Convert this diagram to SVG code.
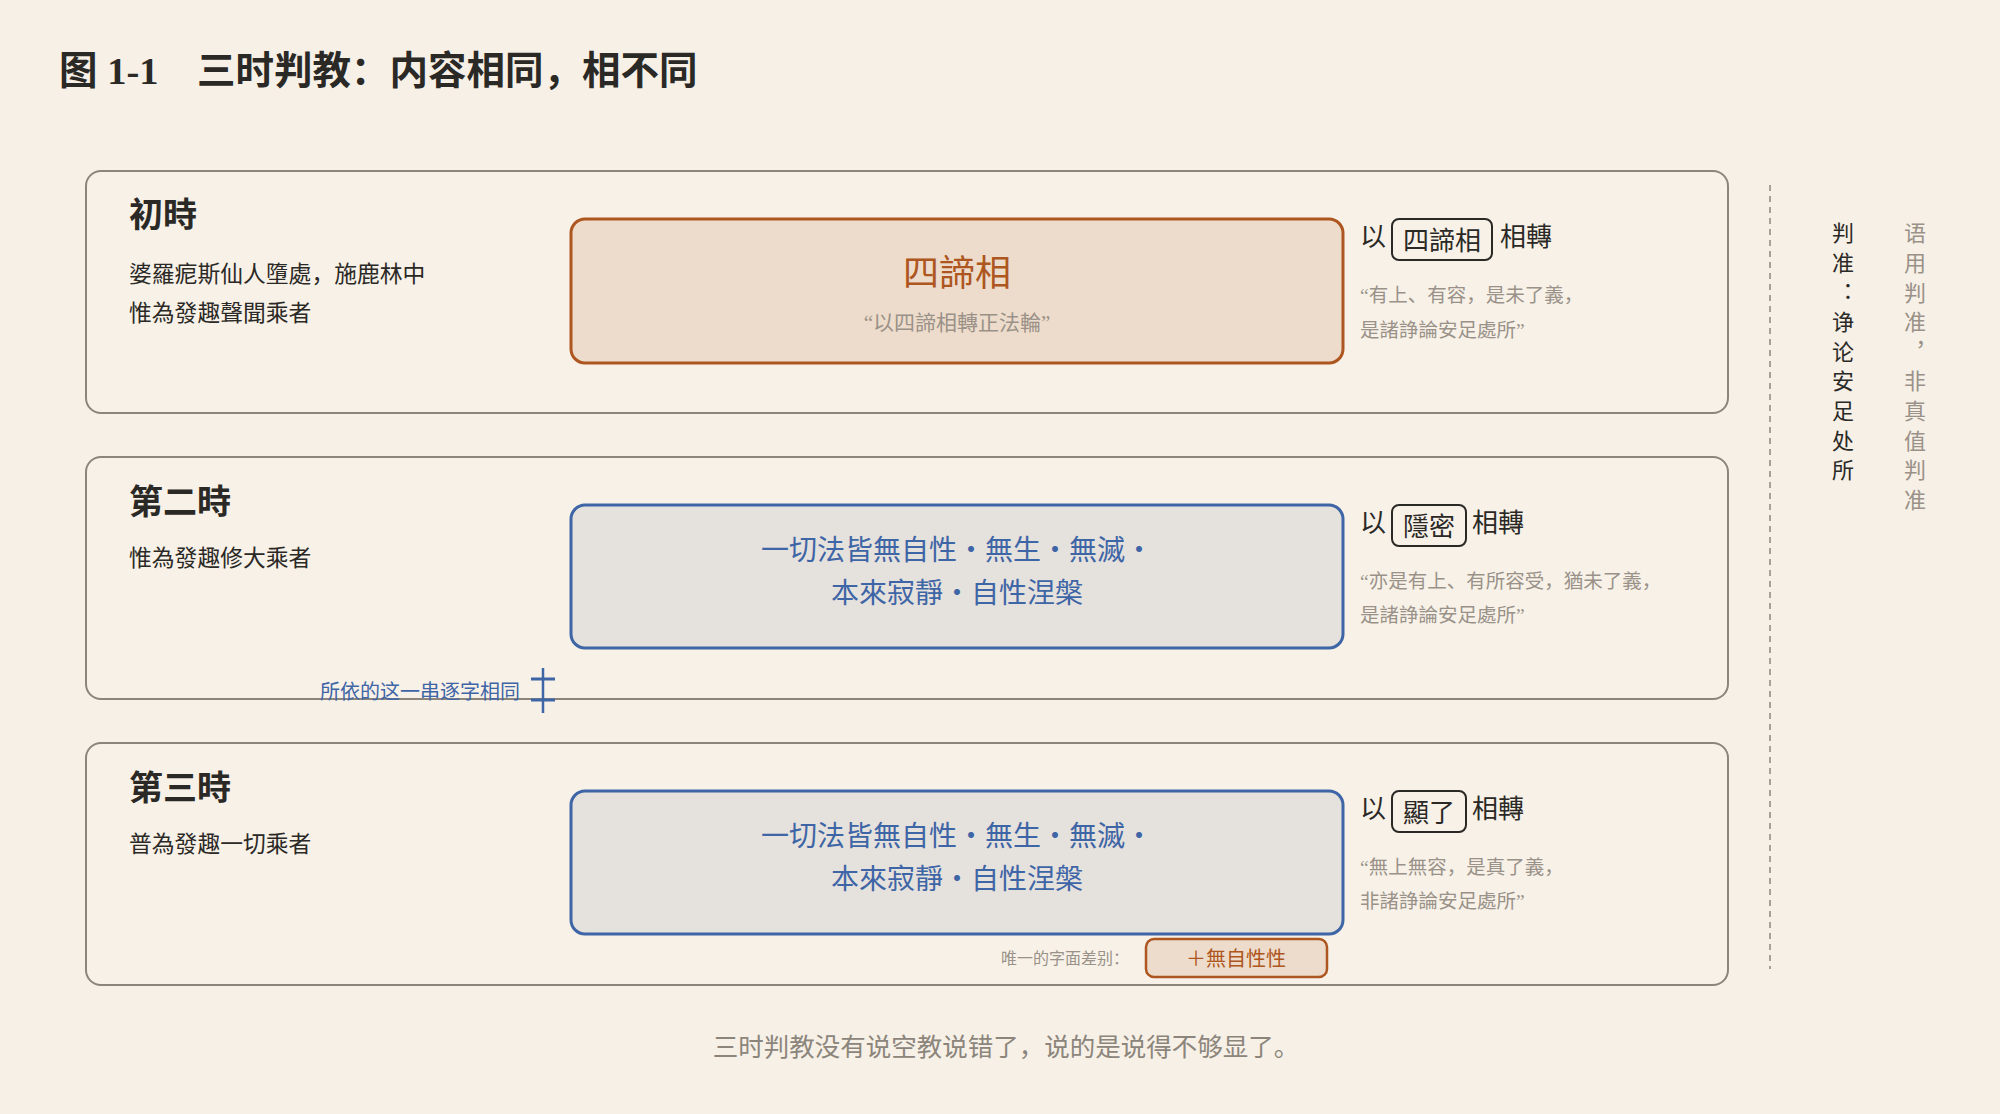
<svg xmlns="http://www.w3.org/2000/svg" width="2000" height="1114" viewBox="0 0 2000 1114">
<style>
text{font-family:"Liberation Serif","Noto Sans CJK SC",serif;}
.title{font-size:38.5px;font-weight:bold;fill:#2b2926;}
.panel{fill:#f7f1e8;stroke:#8c857b;stroke-width:2;}
.lbl{font-size:34px;font-weight:bold;fill:#2b2926;}
.sub{font-size:22.8px;fill:#2b2926;}
.boxO{fill:#eddccb;stroke:#ad5620;stroke-width:3;}
.boxB{fill:#e5e1dc;stroke:#3e65a6;stroke-width:3;}
.big{font-size:36px;fill:#ad5620;text-anchor:middle;}
.bq{font-size:21px;fill:#9a9188;text-anchor:middle;}
.blue{font-size:28px;fill:#3e65a6;text-anchor:middle;}
.yi{font-size:26px;fill:#2b2926;}
.tag{fill:none;stroke:#2b2926;stroke-width:2;}
.tagt{font-size:26px;fill:#2b2926;text-anchor:middle;}
.q{font-size:19.5px;fill:#9a9188;}
.vt{font-family:"Noto Sans CJK SC",sans-serif;font-size:22px;writing-mode:vertical-rl;letter-spacing:7.6px;}
</style>
<rect x="0" y="0" width="2000" height="1114" fill="#f6f0e7"/>
<text class="title" x="59" y="84">图 1-1　三时判教：内容相同，相不同</text>

<g id="panel1">
<rect class="panel" x="86" y="171" width="1642" height="242" rx="15"/>
<text class="lbl" x="129" y="227">初時</text>
<text class="sub" x="129" y="282">婆羅痆斯仙人墮處，施鹿林中</text>
<text class="sub" x="129" y="321">惟為發趣聲聞乘者</text>
</g>
<g id="box1">
<rect class="boxO" x="571" y="219" width="772" height="144" rx="14"/>
<text class="big" x="957" y="286">四諦相</text>
<text class="bq" x="957" y="330">“以四諦相轉正法輪”</text>
</g>
<g id="note1">
<text class="yi" x="1360" y="246">以</text>
<rect class="tag" x="1392" y="219" width="100" height="41" rx="7"/>
<text class="tagt" x="1442" y="250">四諦相</text>
<text class="yi" x="1500" y="246">相轉</text>
<text class="q" x="1360" y="302">“有上、有容，是未了義，</text>
<text class="q" x="1360" y="337">是諸諍論安足處所”</text>
</g>

<g id="panel2">
<rect class="panel" x="86" y="457" width="1642" height="242" rx="15"/>
<text class="lbl" x="129" y="514">第二時</text>
<text class="sub" x="129" y="566">惟為發趣修大乘者</text>
</g>
<g id="box2">
<rect class="boxB" x="571" y="505" width="772" height="143" rx="14"/>
<text class="blue" x="957" y="560">一切法皆無自性・無生・無滅・</text>
<text class="blue" x="957" y="603">本來寂靜・自性涅槃</text>
</g>
<g id="note2">
<text class="yi" x="1360" y="532">以</text>
<rect class="tag" x="1392" y="505" width="74" height="41" rx="7"/>
<text class="tagt" x="1429" y="536">隱密</text>
<text class="yi" x="1472" y="532">相轉</text>
<text class="q" x="1360" y="588">“亦是有上、有所容受，猶未了義，</text>
<text class="q" x="1360" y="622">是諸諍論安足處所”</text>
</g>

<g id="panel3">
<rect class="panel" x="86" y="743" width="1642" height="242" rx="15"/>
<text class="lbl" x="129" y="800">第三時</text>
<text class="sub" x="129" y="852">普為發趣一切乘者</text>
</g>
<g id="box3">
<rect class="boxB" x="571" y="791" width="772" height="143" rx="14"/>
<text class="blue" x="957" y="846">一切法皆無自性・無生・無滅・</text>
<text class="blue" x="957" y="889">本來寂靜・自性涅槃</text>
</g>
<g id="note3">
<text class="yi" x="1360" y="818">以</text>
<rect class="tag" x="1392" y="791" width="74" height="41" rx="7"/>
<text class="tagt" x="1429" y="822">顯了</text>
<text class="yi" x="1472" y="818">相轉</text>
<text class="q" x="1360" y="874">“無上無容，是真了義，</text>
<text class="q" x="1360" y="908">非諸諍論安足處所”</text>
</g>

<g id="diff">
<text x="1129" y="964" font-size="16" fill="#9a9188" text-anchor="end">唯一的字面差别：</text>
<rect x="1146" y="939" width="181" height="38" rx="8" fill="#eddccb" stroke="#ad5620" stroke-width="2.5"/>
<text x="1236" y="966" font-size="20" fill="#ad5620" text-anchor="middle">＋無自性性</text>
</g>

<g id="connectors">
<g id="same-mark" stroke="#3e65a6">
<line x1="543" y1="668" x2="543" y2="713" stroke-width="2.5"/>
<line x1="531" y1="679" x2="555" y2="679" stroke-width="3"/>
<line x1="531" y1="700" x2="555" y2="700" stroke-width="3"/>
</g>
<line id="divider" x1="1770" y1="185" x2="1770" y2="969" stroke="#8c857b" stroke-width="1.5" stroke-dasharray="6 5"/>
</g>
<text x="520" y="699" font-size="20" fill="#3e65a6" text-anchor="end">所依的这一串逐字相同</text>

<g id="side">
<text class="vt" x="1843" y="222" fill="#2b2926">判准：诤论安足处所</text>
<text class="vt" x="1915" y="222" fill="#9a9188">语用判准，非真值判准</text>
</g>

<text x="1006" y="1056" font-size="25.5" fill="#8c857b" text-anchor="middle">三时判教没有说空教说错了，说的是说得不够显了。</text>
</svg>
